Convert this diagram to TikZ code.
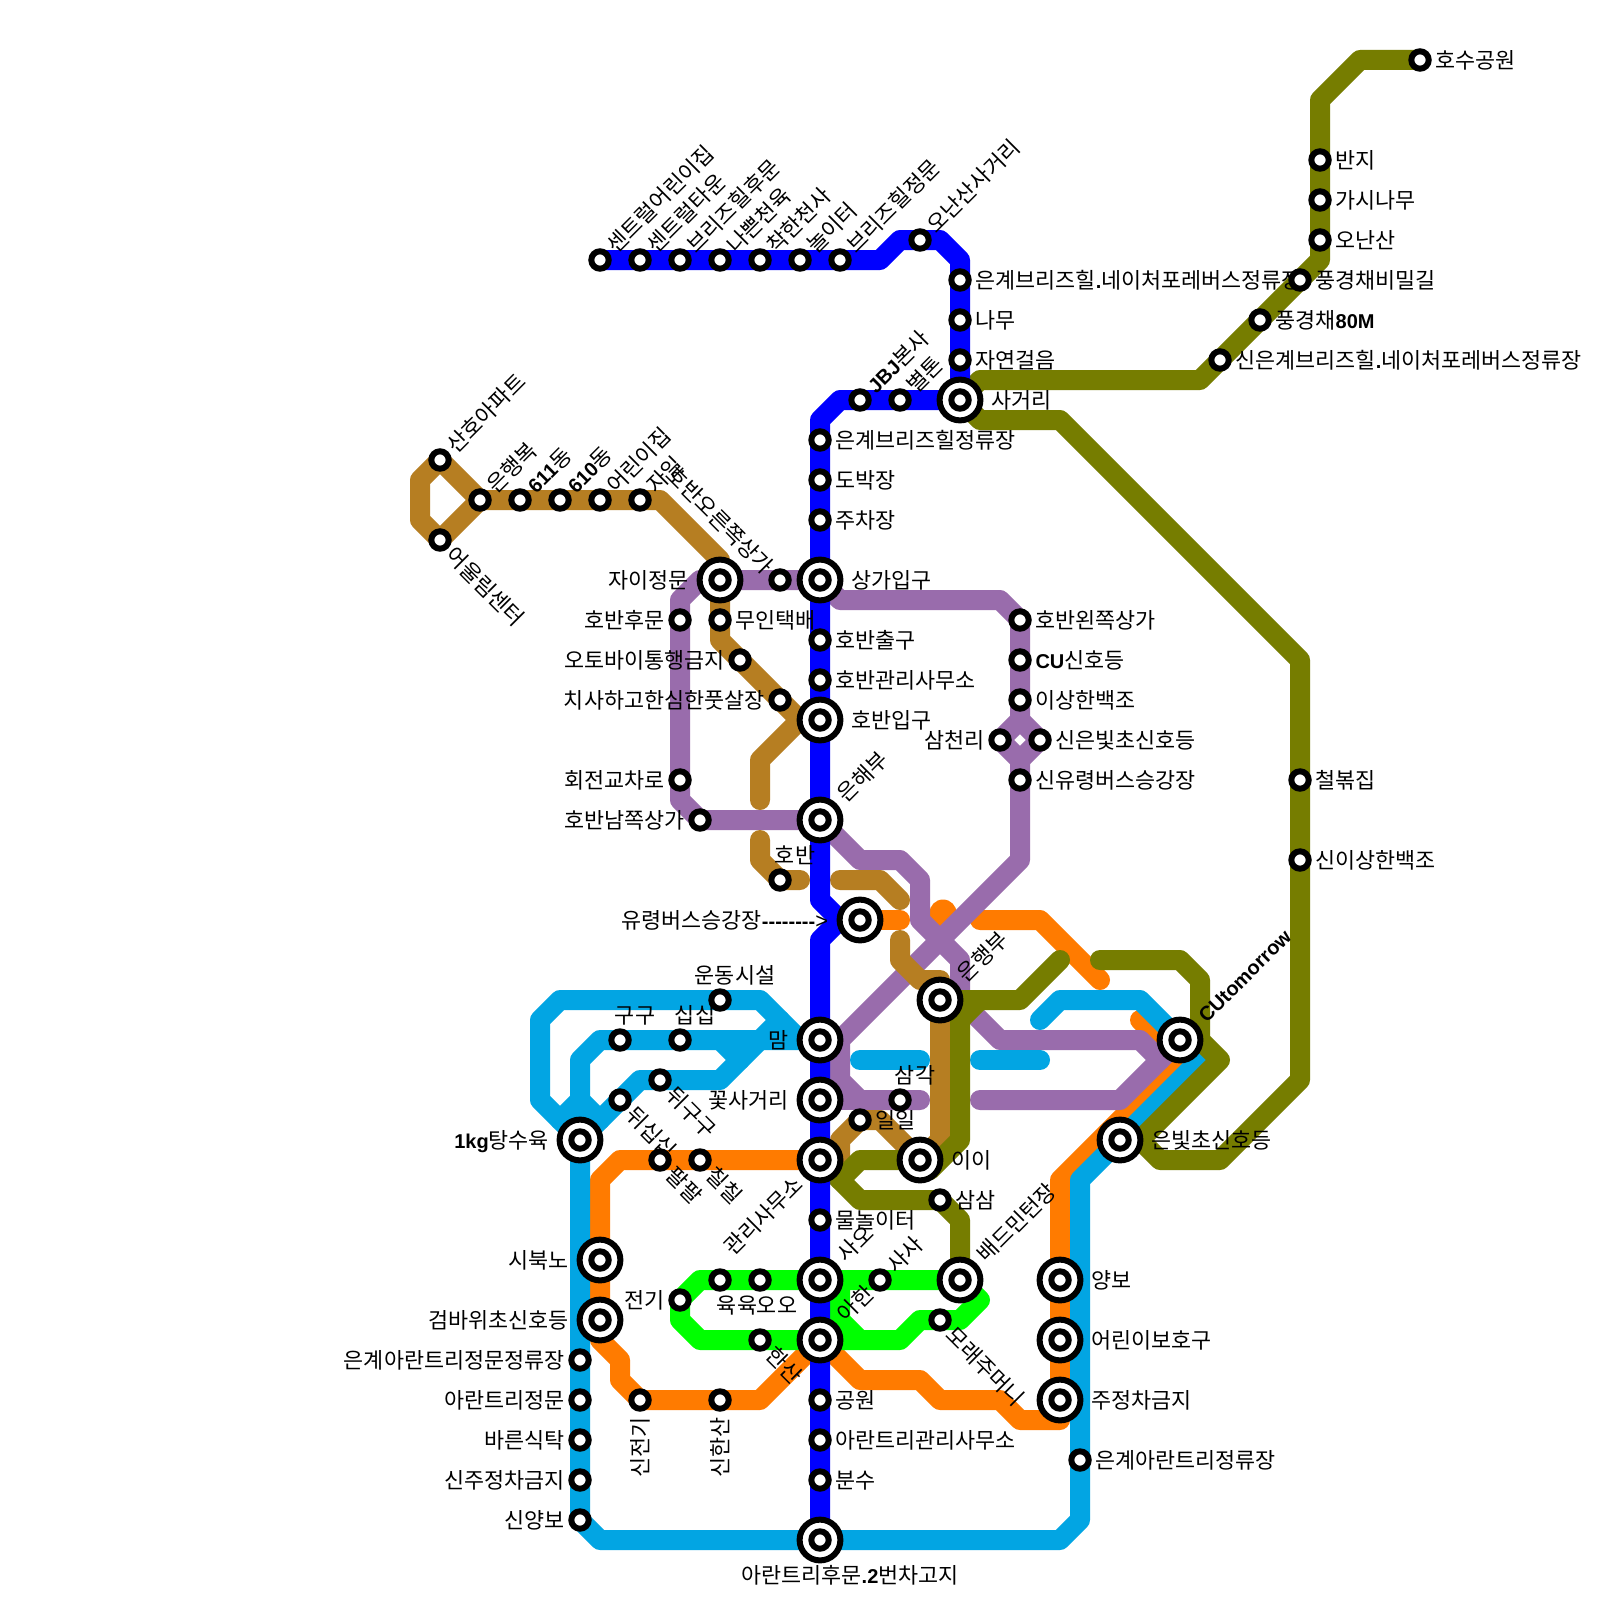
\documentclass[tikz,border=0pt]{standalone}
\usepackage{fontspec}
\setmainfont{Noto Sans CJK KR}
\newfontfamily\latf{Liberation Sans}
\newcommand\bld[1]{{\fontsize{10}{12}\selectfont\latf\bfseries #1}}
\pgfdeclarelayer{lines}
\pgfdeclarelayer{labels}
\pgfsetlayers{lines,labels,main}
\definecolor{cblue}{HTML}{0000FF}
\definecolor{cbrown}{HTML}{B67E22}
\definecolor{cpurple}{HTML}{996CAC}
\definecolor{colive}{HTML}{767D00}
\definecolor{ccyan}{HTML}{02A5E3}
\definecolor{corange}{HTML}{FF7B00}
\definecolor{cgreen}{HTML}{00FF00}
\tikzset{
  ln/.style={line width=10pt,line cap=round,line join=round},
  ring/.style={circle,draw=black,fill=white,line width=3pt,inner sep=0pt},
  smallst/.style={ring,minimum size=8.7pt},
  bigst/.style={ring,minimum size=20.4pt},
  lab/.style={inner sep=0pt,outer sep=0pt,text height=9.6pt,text depth=1.3pt,font=\fontsize{10.9}{12}\selectfont}
}
\newcommand\sm[3]{\node[smallst] (#1) at (#2,#3) {};}
\newcommand\bg[3]{\node[bigst] (#1) at (#2,#3) {};\node[smallst] (#1i) at (#2,#3) {};}
% name, dx, dy (px), anchor, rotation, text
\newcommand\txt[6]{\node[lab,anchor=#4,rotate=#5] (l#1) at ([xshift=#2*0.5pt,yshift=#3*-0.5pt]#1.center) {#6};}
\newcommand\txR[2]{\txt{#1}{15.5}{0}{west}{0}{#2}}
\newcommand\txRB{\txRBx}
\newcommand\txRBx[2]{\txt{#1}{31}{0}{west}{0}{#2}}
\newcommand\txL[2]{\txt{#1}{-15.5}{0}{east}{0}{#2}}
\newcommand\txLB[2]{\txt{#1}{-31}{0}{east}{0}{#2}}
\newcommand\txU[2]{\txt{#1}{10.5}{-11.5}{west}{45}{#2}}
\newcommand\txUB[2]{\txt{#1}{21}{-22}{west}{45}{#2}}
\newcommand\txD[2]{\txt{#1}{10}{11}{west}{-45}{#2}}
\newcommand\txA[2]{\txt{#1}{15}{-25}{center}{0}{#2}}
\begin{document}
\begin{tikzpicture}[x=0.5pt,y=-0.5pt]
\useasboundingbox (0,0) rectangle (1600,1600);
% --- stations
\sm{aa}{600}{260}\sm{ab}{640}{260}\sm{ac}{680}{260}\sm{ad}{720}{260}\sm{ae}{760}{260}\sm{af}{800}{260}\sm{ag}{840}{260}
\sm{ah}{920}{240}\sm{ai}{960}{280}\sm{aj}{960}{320}\sm{ak}{960}{360}
\bg{sag}{960}{400}
\sm{jbj}{860}{400}\sm{byl}{900}{400}
\sm{ua}{820}{440}\sm{ub}{820}{480}\sm{uc}{820}{520}
\bg{sang}{820}{580}\bg{jai}{720}{580}
\sm{horu}{780}{580}\sm{hoh}{680}{620}\sm{mui}{720}{620}
\sm{hoc}{820}{640}\sm{hog}{820}{680}\sm{oto}{740}{660}\sm{chi}{780}{700}
\bg{hoi}{820}{720}
\sm{hoj}{680}{780}\sm{hon}{700}{820}
\bg{eun}{820}{820}
\sm{hob}{780}{880}
\bg{yur}{860}{920}
\bg{inh}{940}{1000}
\sm{pa}{1020}{620}\sm{pb}{1020}{660}\sm{pc}{1020}{700}\sm{pd}{1000}{740}\sm{pe}{1040}{740}\sm{pf}{1020}{780}
\sm{sk}{440}{460}\sm{ul}{440}{540}\sm{ih}{480}{500}\sm{dg}{520}{500}\sm{dh}{560}{500}\sm{oj}{600}{500}\sm{ja}{640}{500}
\sm{ho}{1420}{60}\sm{ban}{1320}{160}\sm{gas}{1320}{200}\sm{ona}{1320}{240}\sm{pgb}{1300}{280}\sm{pge}{1260}{320}\sm{sne}{1220}{360}
\sm{chb}{1300}{780}\sm{sis}{1300}{860}
\bg{cut}{1180}{1040}\bg{ebc}{1120}{1140}
\sm{und}{720}{1000}\sm{gu}{620}{1040}\sm{sip}{680}{1040}\sm{dgu}{660}{1080}\sm{dsi}{620}{1100}
\bg{kg}{580}{1140}\bg{mam}{820}{1040}\bg{kko}{820}{1100}\bg{gwa}{820}{1160}
\sm{pal}{660}{1160}\sm{chl}{700}{1160}
\sm{gak}{900}{1100}\sm{ili}{860}{1120}
\bg{ii}{920}{1160}
\sm{sam}{940}{1200}\sm{mul}{820}{1220}
\bg{sao}{820}{1280}\bg{bad}{960}{1280}\bg{aha}{820}{1340}
\sm{sas}{880}{1280}\sm{yuk}{720}{1280}\sm{oo}{760}{1280}\sm{jeo}{680}{1300}\sm{han}{760}{1340}\sm{mor}{940}{1320}
\bg{sib}{600}{1260}\bg{geo}{600}{1320}
\sm{ca}{580}{1360}\sm{cb}{580}{1400}\sm{cc}{580}{1440}\sm{cd}{580}{1480}\sm{ce}{580}{1520}
\sm{sje}{640}{1400}\sm{sha}{720}{1400}
\sm{gon}{820}{1400}\sm{agw}{820}{1440}\sm{bun}{820}{1480}
\bg{ahu}{820}{1540}
\bg{yan}{1060}{1280}\bg{ebo}{1060}{1340}\bg{jju}{1060}{1400}
\sm{eja}{1080}{1460}
% --- lines
\begin{pgfonlayer}{lines}
\fill[white] (0,0) rectangle (1600,1600);
% orange
\draw[ln,corange] (yur.center) -- (900,920);
\fill[corange] (943,913) circle (13.5);
\draw[ln,corange] (980,920) -- (1040,920) -- (1100,980);
\draw[ln,corange] (gwa.center) -- (620,1160) -- (600,1180) -- (600,1340) -- (620,1360) -- (620,1380) -- (640,1400) -- (760,1400) -- (aha.center) -- (860,1380) -- (920,1380) -- (940,1400) -- (1000,1400) -- (1020,1420) -- (1060,1420) -- (1060,1180) -- (1180,1060) -- (1140,1020);
% purple
\draw[ln,cpurple] (sang.center) -- (700,580) -- (680,600) -- (680,800) -- (700,820) -- (eun.center) -- (860,860) -- (900,860) -- (920,880) -- (920,920) -- (960,960) -- (960,1000) -- (1000,1040) -- (1140,1040) -- (1160,1060) -- (1120,1100) -- (980,1100);
\draw[ln,cpurple] (sang.center) -- (840,600) -- (1000,600) -- (1020,620) -- (1020,720) -- (1000,740) -- (1020,760) -- (1020,860) -- (840,1040) -- (840,1080) -- (860,1100) -- (920,1100);
\draw[ln,cpurple] (1020,720) -- (1040,740) -- (1020,760);
\draw[ln,cpurple] (mam.center) -- (840,1040);
\draw[ln,cpurple] (kko.center) -- (860,1100);
\draw[ln,cpurple] (1160,1060) -- (cut.center);
% cyan
\draw[ln,ccyan] (1040,1020) -- (1060,1000) -- (1140,1000) -- (cut.center) -- (1200,1060) -- (1080,1180) -- (1080,1520) -- (1060,1540) -- (600,1540) -- (580,1520) -- (kg.center);
\draw[ln,ccyan] (kg.center) -- (540,1100) -- (540,1020) -- (560,1000) -- (760,1000) -- (800,1040) -- (mam.center);
\draw[ln,ccyan] (kg.center) -- (580,1060) -- (600,1040) -- (mam.center);
\draw[ln,ccyan] (kg.center) -- (640,1080) -- (720,1080) -- (780,1020);
\draw[ln,ccyan] (720,1040) -- (740,1060);
\draw[ln,ccyan] (580,1100) -- (600,1120);
\draw[ln,ccyan] (580,1100) -- (560,1120);
\draw[ln,ccyan] (860,1060) -- (920,1060);
\draw[ln,ccyan] (980,1060) -- (1040,1060);
% brown
\draw[ln,cbrown] (sk.center) -- (420,480) -- (420,520) -- (ul.center) -- (ih.center) -- (660,500) -- (720,560) -- (720,640) -- (800,720) -- (760,760) -- (760,800);
\draw[ln,cbrown] (sk.center) -- (ih.center);
\draw[ln,cbrown] (760,840) -- (760,860) -- (hob.center) -- (800,880);
\draw[ln,cbrown] (840,880) -- (880,880) -- (900,900);
\draw[ln,cbrown] (900,940) -- (900,960) -- (920,980) -- (940,980) -- (940,1140) -- (ii.center) -- (880,1120) -- (ili.center) -- (840,1140) -- (840,1160) -- (gwa.center);
% olive
\draw[ln,colive] (sag.center) -- (980,380) -- (1200,380) -- (1320,260) -- (1320,100) -- (1360,60) -- (ho.center);
\draw[ln,colive] (sag.center) -- (980,420) -- (1060,420) -- (1300,660) -- (1300,1080) -- (1220,1160) -- (1160,1160) -- (1140,1140) -- (1220,1060) -- (1200,1040) -- (1200,980) -- (1180,960) -- (1100,960);
\draw[ln,colive] (inh.center) -- (1020,1000) -- (1060,960);
\draw[ln,colive] (980,1000) -- (960,1020) -- (960,1140) -- (930,1170);
\draw[ln,colive] (ii.center) -- (860,1160) -- (840,1180);
\draw[ln,colive] (gwa.center) -- (860,1200) -- (940,1200) -- (960,1220) -- (bad.center);
% green
\draw[ln,cgreen] (bad.center) -- (700,1280) -- (680,1300) -- (680,1320) -- (700,1340) -- (900,1340) -- (920,1320) -- (960,1320) -- (980,1300) -- cycle;
\draw[ln,cgreen] (840,1280) -- (840,1320) -- (860,1340);
% blue
\draw[ln,cblue] (aa.center) -- (880,260) -- (900,240) -- (940,240) -- (960,260) -- (sag.center) -- (840,400) -- (820,420) -- (820,900) -- (840,920) -- (yur.center) -- (840,920) -- (820,940) -- (ahu.center);
\end{pgfonlayer}
% --- labels
\begin{pgfonlayer}{labels}
\txU{aa}{센트럴어린이집}\txU{ab}{센트럴타운}\txU{ac}{브리즈힐후문}\txU{ad}{나쁜천육}\txU{ae}{착한천사}\txU{af}{놀이터}\txU{ag}{브리즈힐정문}\txU{ah}{오난산사거리}
\txR{ai}{은계브리즈힐\bld{.}네이처포레버스정류장}\txR{aj}{나무}\txR{ak}{자연걸음}
\txRB{sag}{사거리}
\txU{jbj}{\bld{JBJ}본사}\txU{byl}{별톤}
\txR{ua}{은계브리즈힐정류장}\txR{ub}{도박장}\txR{uc}{주차장}
\txRB{sang}{상가입구}\txLB{jai}{자이정문}
\txt{horu}{-10}{-10}{east}{-45}{호반오른쪽상가}
\txL{hoh}{호반후문}\txR{mui}{무인택배}\txR{hoc}{호반출구}\txR{hog}{호반관리사무소}
\txL{oto}{오토바이통행금지}\txL{chi}{치사하고한심한풋살장}
\txRB{hoi}{호반입구}
\txL{hoj}{회전교차로}\txL{hon}{호반남쪽상가}
\txUB{eun}{은해부}
\txA{hob}{호반}
\txt{yur}{-32}{0}{east}{0}{유령버스승강장\bld{--------}{\latf >}}
\txUB{inh}{은행부}
\txR{pa}{호반왼쪽상가}\txR{pb}{\bld{CU}신호등}\txR{pc}{이상한백조}\txL{pd}{삼천리}\txR{pe}{신은빛초신호등}\txR{pf}{신유령버스승강장}
\txU{sk}{산호아파트}\txD{ul}{어울림센터}\txU{ih}{은행복}\txU{dg}{\bld{611}동}\txU{dh}{\bld{610}동}\txU{oj}{어린이집}\txU{ja}{자일}
\txR{ho}{호수공원}\txR{ban}{반지}\txR{gas}{가시나무}\txR{ona}{오난산}\txR{pgb}{풍경채비밀길}\txR{pge}{풍경채\bld{80M}}\txR{sne}{신은계브리즈힐\bld{.}네이처포레버스정류장}
\txR{chb}{철볶집}\txR{sis}{신이상한백조}
\txUB{cut}{\bld{CUtomorrow}}
\txRB{ebc}{은빛초신호등}
\txA{und}{운동시설}\txA{gu}{구구}\txA{sip}{십십}
\txD{dgu}{뒤구구}\txD{dsi}{뒤십십}\txD{pal}{팔팔}\txD{chl}{칠칠}
\txLB{kg}{\bld{1kg}탕수육}\txLB{mam}{맘}\txLB{kko}{꽃사거리}
\txt{gwa}{-21}{20}{east}{45}{관리사무소}
\txA{gak}{삼각}\txR{ili}{일일}\txRB{ii}{이이}\txR{sam}{삼삼}\txR{mul}{물놀이터}
\txUB{sao}{사오}\txU{sas}{사사}\txUB{bad}{배드민턴장}\txUB{aha}{아한}
\txt{yuk}{17}{25}{center}{0}{육육}\txt{oo}{17}{25}{center}{0}{오오}
\txL{jeo}{전기}\txD{han}{한산}\txD{mor}{모래주머니}
\txLB{sib}{시북노}\txLB{geo}{검바위초신호등}
\txL{ca}{은계아란트리정문정류장}\txL{cb}{아란트리정문}\txL{cc}{바른식탁}\txL{cd}{신주정차금지}\txL{ce}{신양보}
\txt{sje}{0}{17}{east}{90}{신전기}\txt{sha}{0}{17}{east}{90}{신한산}
\txR{gon}{공원}\txR{agw}{아란트리관리사무소}\txR{bun}{분수}
\txt{ahu}{30}{35}{center}{0}{아란트리후문\bld{.2}번차고지}
\txRB{yan}{양보}\txRB{ebo}{어린이보호구}\txRB{jju}{주정차금지}\txR{eja}{은계아란트리정류장}
\end{pgfonlayer}
\end{tikzpicture}
\end{document}
